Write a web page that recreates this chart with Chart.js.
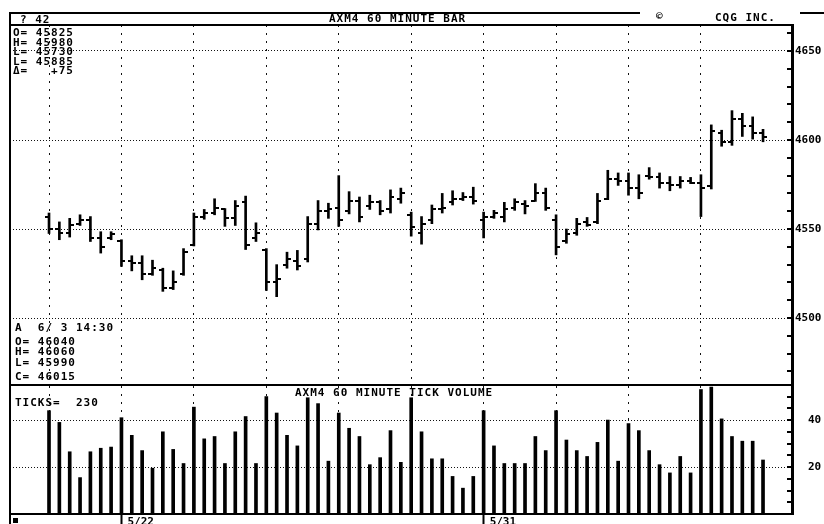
<!DOCTYPE html>
<html>
<head>
<meta charset="utf-8">
<script src="https://cdn.jsdelivr.net/npm/chart.js@4.4.1/dist/chart.umd.min.js"></script>
<style>
  body { margin: 0; background: #fff; }
  #wrap { position: relative; width: 824px; height: 524px; overflow: hidden; background: #fff; }
  canvas { position: absolute; left: 0; }
  .t { position: absolute; font-family: "DejaVu Sans Mono", monospace; font-weight: bold; font-size: 11px;
       letter-spacing: 1px; line-height: 11px; color: #000; white-space: pre; }
  .ln { position: absolute; background: #000; }
</style>
</head>
<body>
<div id="wrap">
  <canvas id="priceChart" width="824" height="385" style="top:0"></canvas>
  <canvas id="volChart" width="824" height="139" style="top:385px"></canvas>

  <!-- frame -->
  <div class="ln" style="left:9px;top:13px;width:2px;height:511px"></div>
  <div class="ln" style="left:9px;top:12px;width:631px;height:2px"></div>
  <div class="ln" style="left:800px;top:12px;width:24px;height:2px"></div>
  <div class="ln" style="left:9px;top:24px;width:784px;height:2px"></div>
  <div class="ln" style="left:9px;top:384px;width:784px;height:2px"></div>
  <div class="ln" style="left:9px;top:513px;width:784px;height:2px"></div>
  <div class="ln" style="left:13px;top:518px;width:5px;height:5px"></div>

  <!-- header -->
  <div class="t" style="left:20px;top:14px">? 42</div>
  <div class="t" style="left:329px;top:13px">AXM4 60 MINUTE BAR</div>
  <div class="t" style="left:656px;top:11px">©</div>
  <div class="t" style="left:715px;top:12px">CQG INC.</div>

  <!-- day summary -->
  <div class="t" style="left:13px;top:27px">O= 45825</div>
  <div class="t" style="left:13px;top:37px">H= 45980</div>
  <div class="t" style="left:13px;top:46px">L= 45730</div>
  <div class="t" style="left:13px;top:56px">L= 45885</div>
  <div class="t" style="left:13px;top:65px">Δ=   +75</div>

  <!-- last bar -->
  <div class="t" style="left:15px;top:322px">A  6/ 3 14:30</div>
  <div class="t" style="left:15px;top:336px">O= 46040</div>
  <div class="t" style="left:15px;top:346px">H= 46060</div>
  <div class="t" style="left:15px;top:357px">L= 45990</div>
  <div class="t" style="left:15px;top:371px">C= 46015</div>

  <!-- volume panel -->
  <div class="t" style="left:15px;top:397px">TICKS=  230</div>
  <div class="t" style="left:295px;top:387px">AXM4 60 MINUTE TICK VOLUME</div>
</div>

<script>
// 60 minute bars, 7 per day, 70 bars
const highs = [4559, 4554, 4556, 4558, 4557, 4548.5, 4548.5, 4544, 4535, 4535,
  4532.5, 4528, 4526.5, 4539, 4559, 4561, 4567, 4561.5, 4566, 4568.5,
  4553.5, 4539, 4530, 4537, 4538, 4557, 4566, 4564.5, 4580, 4571,
  4568, 4569, 4566, 4572, 4573, 4559.5, 4557, 4563.5, 4570, 4571.5,
  4570.5, 4573.5, 4559.5, 4560.5, 4565, 4567, 4566, 4575.5, 4573, 4558,
  4550, 4556, 4556.5, 4570, 4583, 4581.5, 4581.5, 4580.5, 4584.5, 4581.5,
  4579.5, 4579.5, 4579, 4580.5, 4608.5, 4605.5, 4616.5, 4615, 4613, 4606];
const lows = [4547.5, 4544, 4545.5, 4552, 4543, 4536.5, 4544, 4529, 4526.5, 4521.5,
  4524, 4515, 4516, 4524, 4540.5, 4555.5, 4558, 4551.5, 4552, 4538.5,
  4543, 4515.5, 4512, 4528, 4527, 4531.5, 4549.5, 4556, 4551.5, 4558.5,
  4554, 4561, 4558, 4559, 4564.5, 4546, 4541.5, 4553, 4559, 4563.5,
  4566, 4564, 4545, 4556, 4554, 4560.5, 4558.5, 4565.5, 4560.5, 4535.5,
  4542, 4546.5, 4551.5, 4553, 4566.5, 4574.5, 4569, 4567, 4578, 4573,
  4571.5, 4573, 4575.5, 4557, 4572.5, 4596.5, 4597, 4602, 4600.5, 4599];
const opens = [4557, 4550, 4548, 4553, 4555, 4545, 4545, 4543, 4532, 4531,
  4525, 4527, 4517, 4525, 4541, 4557, 4559, 4561, 4556, 4565,
  4545, 4538, 4520, 4530, 4532, 4533, 4553, 4560, 4562, 4560,
  4566, 4563, 4565, 4561, 4567, 4558, 4548, 4555, 4561, 4565,
  4567, 4568, 4555, 4557, 4557, 4562, 4564, 4566, 4570, 4555,
  4543, 4548, 4554, 4554, 4567, 4578, 4577, 4573, 4580, 4579,
  4576, 4575, 4577, 4576, 4574, 4604, 4599, 4612, 4608, 4604];
const closes = [4550, 4548, 4552, 4555, 4545, 4540, 4547, 4532, 4531, 4525,
  4528, 4517, 4520, 4537, 4557, 4559, 4562, 4556, 4563, 4541,
  4548, 4520, 4522, 4533, 4529, 4553, 4560, 4561, 4555, 4566,
  4557, 4565, 4560, 4568, 4570, 4551, 4553, 4561, 4562, 4567,
  4568, 4566, 4557, 4559, 4561, 4565, 4563, 4570, 4562, 4540,
  4547, 4553, 4552, 4566, 4578, 4577, 4573, 4570, 4579, 4576,
  4575, 4577, 4576, 4573, 4605, 4599, 4612, 4608, 4604, 4601.5];
const ticks = [44, 39, 26.5, 15.5, 26.5, 28, 28.5, 41, 33.5, 27,
  19.5, 35, 27.5, 21.5, 45.5, 32, 33, 21.5, 35, 41.5,
  21.5, 50, 43, 33.5, 29, 49.5, 47, 22.5, 43, 36.5,
  33, 21, 24, 35.5, 22, 49.5, 35, 23.5, 23.5, 16,
  11, 16, 44, 29, 21.5, 21.5, 21.5, 33, 27, 44,
  31.5, 27, 24.5, 30.5, 40, 22.5, 38.5, 35.5, 27, 21,
  17.5, 24.5, 17.5, 53, 54, 40.5, 33, 31, 31, 23];

// axis ticks
const dayStarts = [0, 7, 14, 21, 28, 35, 42, 49, 56, 63];
const priceTicks = [4470, 4480, 4490, 4500, 4510, 4520, 4530, 4540, 4550, 4560,
  4570, 4580, 4590, 4600, 4610, 4620, 4630, 4640, 4650, 4660];
const priceLabels = [4500, 4550, 4600, 4650];
const volTicks = [5, 10, 15, 20, 25, 30, 35, 40, 45, 50];
const volLabels = [20, 40];
const dateTicks = [7, 42];
const dateLabels = ['5/22', '5/31'];

const xMin = -3.77, xMax = 71.8;
const font = { family: 'DejaVu Sans Mono', size: 11, weight: 'bold' };

const ohlcTicks = {
  id: 'ohlcTicks',
  afterDatasetsDraw(chart) {
    if (chart.canvas.id !== 'priceChart') return;
    const x = chart.scales.x, y = chart.scales.y, ctx = chart.ctx;
    ctx.save();
    ctx.strokeStyle = '#000';
    ctx.lineWidth = 2;
    ctx.beginPath();
    opens.forEach((o, i) => {
      const px = Math.round(x.getPixelForValue(i));
      const yo = Math.round(y.getPixelForValue(o));
      const yc = Math.round(y.getPixelForValue(closes[i]));
      ctx.moveTo(px - 4, yo); ctx.lineTo(px, yo);
      ctx.moveTo(px, yc); ctx.lineTo(px + 4, yc);
    });
    ctx.stroke();
    ctx.restore();
  }
};

// small tick marks pointing into the chart from the right axis
const innerTicks = {
  id: 'innerTicks',
  afterDraw(chart) {
    const y = chart.scales.y, ctx = chart.ctx, r = chart.chartArea.right;
    ctx.save();
    ctx.strokeStyle = '#000';
    ctx.lineWidth = 2;
    ctx.beginPath();
    y.ticks.forEach(t => {
      const py = Math.round(y.getPixelForValue(t.value));
      ctx.moveTo(r - 5, py); ctx.lineTo(r, py);
    });
    ctx.stroke();
    ctx.restore();
  }
};

function xAxis() {
  return {
    type: 'linear', min: xMin, max: xMax, offset: false,
    afterBuildTicks: s => { s.ticks = dayStarts.map(v => ({ value: v })); },
    afterFit: s => { s.height = 0; },
    ticks: { display: false },
    grid: { offset: false, drawTicks: false, color: '#111', lineWidth: 1 },
    border: { display: false, dash: [2, 6] }
  };
}

// fixed width right axis, no extra room for label overflow
function fitRight(s) {
  s.width = 32;
  s.paddingTop = 0;
  s.paddingBottom = 0;
}

const priceChart = new Chart(document.getElementById('priceChart'), {
  type: 'bar',
  data: {
    datasets: [{
      data: highs.map((h, i) => ({ x: i, y: [lows[i], h] })),
      backgroundColor: '#000',
      borderWidth: 0,
      barThickness: 2
    }]
  },
  options: {
    responsive: false, animation: false, devicePixelRatio: 1,
    layout: { padding: { left: 10, top: 25, right: 0, bottom: 0 } },
    plugins: { legend: { display: false }, tooltip: { enabled: false } },
    scales: {
      x: xAxis(),
      y: {
        position: 'right', min: 4462.4, max: 4664.6,
        afterBuildTicks: s => { s.ticks = priceTicks.map(v => ({ value: v })); },
        afterFit: fitRight,
        ticks: { color: '#000', font, padding: 3, autoSkip: false,
          callback: v => priceLabels.includes(v) ? String(v) : '' },
        grid: { drawTicks: false, lineWidth: 1,
          color: c => c.tick && priceLabels.includes(c.tick.value) ? '#111' : 'rgba(0,0,0,0)' },
        border: { display: true, color: '#000', width: 3, dash: [1, 2] }
      }
    }
  },
  plugins: [ohlcTicks, innerTicks]
});

const volChart = new Chart(document.getElementById('volChart'), {
  type: 'bar',
  data: {
    datasets: [{
      data: ticks.map((v, i) => ({ x: i, y: v })),
      backgroundColor: '#000',
      borderWidth: 0,
      barThickness: 3
    }]
  },
  options: {
    responsive: false, animation: false, devicePixelRatio: 1,
    layout: { padding: { left: 10, top: 1, right: 0, bottom: 0 } },
    plugins: { legend: { display: false }, tooltip: { enabled: false } },
    scales: {
      x: xAxis(),
      dates: {
        type: 'linear', position: 'bottom', min: xMin, max: xMax, offset: false,
        afterBuildTicks: s => { s.ticks = dateTicks.map(v => ({ value: v })); },
        afterFit: s => { s.height = 10; },
        ticks: { color: '#000', font, align: 'start', labelOffset: 6, padding: -8,
          maxRotation: 0, autoSkip: false,
          callback: v => dateLabels[dateTicks.indexOf(v)] || '' },
        grid: { offset: false, drawOnChartArea: false, drawTicks: true, tickLength: 10,
          tickColor: '#000', tickWidth: 2 },
        border: { display: false }
      },
      y: {
        position: 'right', min: 0, max: 54.5,
        afterBuildTicks: s => { s.ticks = volTicks.map(v => ({ value: v })); },
        afterFit: fitRight,
        ticks: { color: '#000', font, padding: 16, autoSkip: false,
          callback: v => volLabels.includes(v) ? String(v) : '' },
        grid: { drawTicks: false, lineWidth: 1,
          color: c => c.tick && volLabels.includes(c.tick.value) ? '#111' : 'rgba(0,0,0,0)' },
        border: { display: true, color: '#000', width: 3, dash: [1, 2] }
      }
    }
  },
  plugins: [innerTicks]
});
</script>
</body>
</html>
